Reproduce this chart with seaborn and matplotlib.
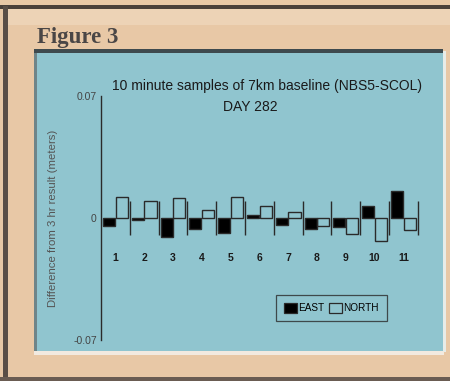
import pandas as pd
import matplotlib.pyplot as plt
import seaborn as sns
from matplotlib.patches import Rectangle
from matplotlib.ticker import FixedLocator

# muestras de 10 minutos, diferencia respecto al resultado de 3 h (metros)
samples = [str(i) for i in range(1, 12)]
east = [-0.0044, -0.0010, -0.0111, -0.0061, -0.0088, 0.0017,
        -0.0038, -0.0065, -0.0050, 0.0071, 0.0157]
north = [0.0120, 0.0099, 0.0117, 0.0044, 0.0119, 0.0069,
         0.0036, -0.0046, -0.0092, -0.0134, -0.0069]
y_ticks = [-0.07, 0, 0.07]
y_tick_labels = ["-0.07", "0", "0.07"]

df = pd.DataFrame({
    "sample": samples * 2,
    "component": ["EAST"] * len(samples) + ["NORTH"] * len(samples),
    "value": east + north,
})

plt.rcParams["font.family"] = ["Liberation Sans", "DejaVu Sans"]

peach = "#e8c8a6"
blue = "#90c5cf"
dark = "#2a2a2a"

fig = plt.figure(figsize=(4.5, 3.81), dpi=100, facecolor=peach)

# marco de la pagina escaneada (detras de los ejes)
def fondo(x, y, w, h, c):
    fig.add_artist(Rectangle((x, y), w, h, transform=fig.transFigure,
                             color=c, lw=0, zorder=-5))

fondo(0, 0.976, 1, 0.011, "#4a403a")
fondo(0.007, 0, 0.011, 0.985, "#5a4e46")
fondo(0.0, 0.0, 1, 0.01, "#6a5c52")
fondo(0.018, 0.935, 0.982, 0.041, "#edd3b6")
fondo(0.076, 0.068, 0.91, 0.012, "#f2eae0")
fondo(0.076, 0.079, 0.908, 0.79, blue)
fondo(0.076, 0.079, 0.006, 0.79, "#6f8589")
fondo(0.076, 0.861, 0.908, 0.011, "#3e4a4e")
fondo(0.984, 0.075, 0.006, 0.79, "#e8ece8")

fig.text(0.082, 0.887, "Figure 3", family="Liberation Serif", fontsize=16.5,
         fontweight="bold", color="#4a4646", va="baseline")

ax = fig.add_axes([0.2244, 0.1076, 0.76, 0.6404])
ax.set_facecolor("none")

sns.barplot(data=df, x="sample", y="value", hue="component",
            palette={"EAST": "black", "NORTH": "black"},
            edgecolor=dark, linewidth=1.0, width=0.88, gap=0.05,
            ax=ax, legend=False)

# barras NORTH huecas
n = len(samples)
for i, p in enumerate(ax.patches):
    if i >= n:
        p.set_facecolor("none")

ax.set_xlim(-0.5, 11.375)
ax.set_ylim(-0.07, 0.07)
ax.set_yticks(y_ticks)
ax.set_yticklabels(y_tick_labels)
ax.tick_params(axis="y", length=0, pad=3, labelsize=7.5, colors="#444444")

# eje x en el cero, invisible; separadores como ticks menores
for s in ["top", "right"]:
    ax.spines[s].set_visible(False)
ax.spines["bottom"].set_position(("data", 0))
ax.spines["bottom"].set_visible(False)
ax.spines["left"].set_color(dark)
ax.spines["left"].set_linewidth(1)
ax.xaxis.set_minor_locator(FixedLocator([i + 0.5 for i in range(n)]))
ax.tick_params(axis="x", which="minor", direction="inout", length=24.5,
               width=1, color=dark)
ax.tick_params(axis="x", which="major", length=0, pad=25, labelsize=7.5,
               colors="#1a1a1a")
for t in ax.get_xticklabels():
    t.set_fontweight("bold")

ax.set_xlabel("")
ax.set_ylabel("Difference from 3 hr result (meters)", fontsize=8.2,
              color="#555555")
ax.yaxis.set_label_coords(-0.126, 0.5)

fig.text(0.593, 0.773, "10 minute samples of 7km baseline (NBS5-SCOL)",
         ha="center", va="center", fontsize=10, color="#1a1a1a")
fig.text(0.556, 0.72, "DAY 282", ha="center", va="center", fontsize=10,
         color="#1a1a1a")

handles = [Rectangle((0, 0), 1, 1, facecolor="black", edgecolor=dark, lw=0.9),
           Rectangle((0, 0), 1, 1, facecolor="none", edgecolor=dark, lw=0.9)]
leg = ax.legend(handles, ["EAST", "NORTH"], ncol=2, loc="center",
                bbox_to_anchor=(0.674, 0.131), fontsize=7.2,
                handlelength=1.3, handleheight=1.3, handletextpad=0.1,
                columnspacing=0.5, borderpad=0.8, frameon=True, fancybox=False)
leg.get_frame().set_edgecolor(dark)
leg.get_frame().set_facecolor("none")
leg.get_frame().set_linewidth(0.9)

fig.savefig("out.png", dpi=100, facecolor=peach)
